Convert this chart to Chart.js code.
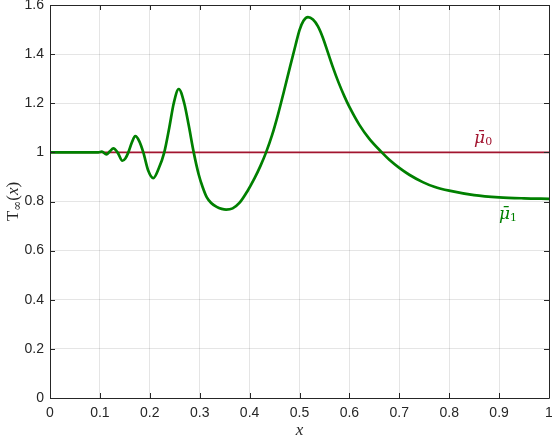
<!DOCTYPE html>
<html>
<head>
<meta charset="utf-8">
<script src="https://cdn.jsdelivr.net/npm/chart.js@4/dist/chart.umd.min.js"></script>
<style>
html,body{margin:0;padding:0;background:#fff;}
#wrap{width:552px;height:440px;}
</style>
</head>
<body>
<div id="wrap"><canvas id="c" width="552" height="440"></canvas></div>
<script>
// ---- data ----
const xValues = [0, 0.05, 0.09, 0.097, 0.104, 0.113, 0.120, 0.127, 0.136, 0.145, 0.151, 0.157, 0.164, 0.171, 0.179, 0.187, 0.197, 0.207, 0.218, 0.229, 0.239, 0.248, 0.258, 0.269, 0.278, 0.288, 0.298, 0.306, 0.314, 0.323, 0.334, 0.344, 0.353, 0.366, 0.380, 0.395, 0.410, 0.422, 0.433, 0.445, 0.457, 0.469, 0.481, 0.492, 0.500, 0.508, 0.517, 0.527, 0.537, 0.547, 0.557, 0.567, 0.578, 0.590, 0.600, 0.620, 0.640, 0.665, 0.680, 0.700, 0.720, 0.747, 0.770, 0.800, 0.850, 0.900, 0.950, 1.000];
const mu1Values = [1, 1, 1, 1.000, 1.003, 0.992, 1.004, 1.016, 0.998, 0.966, 0.975, 1.000, 1.040, 1.066, 1.045, 1.000, 0.925, 0.895, 0.935, 1.000, 1.100, 1.200, 1.258, 1.200, 1.110, 1.000, 0.910, 0.858, 0.818, 0.794, 0.778, 0.770, 0.767, 0.772, 0.795, 0.840, 0.895, 0.946, 1.000, 1.070, 1.155, 1.250, 1.348, 1.436, 1.498, 1.536, 1.551, 1.541, 1.513, 1.466, 1.406, 1.346, 1.286, 1.228, 1.185, 1.112, 1.055, 1.000, 0.970, 0.937, 0.909, 0.879, 0.860, 0.844, 0.826, 0.817, 0.813, 0.811];
const mu0X = [0, 1];
const mu0Values = [1, 1];
const xTickValues = [0, 0.1, 0.2, 0.3, 0.4, 0.5, 0.6, 0.7, 0.8, 0.9, 1];
const xTickLabels = ['0', '0.1', '0.2', '0.3', '0.4', '0.5', '0.6', '0.7', '0.8', '0.9', '1'];
const yTickValues = [0, 0.2, 0.4, 0.6, 0.8, 1, 1.2, 1.4, 1.6];
const yTickLabels = ['0', '0.2', '0.4', '0.6', '0.8', '1', '1.2', '1.4', '1.6'];
const labelMu0 = {x: 0.868, y: 1.04};
const labelMu1 = {x: 0.918, y: 0.728};

const GREEN = 'rgb(0,128,0)';
const RED = 'rgb(162,20,47)';
const AXIS = '#262626';

function findLabel(vals, labels, v) {
  for (let i = 0; i < vals.length; i++) if (Math.abs(vals[i] - v) < 1e-6) return labels[i];
  return '';
}

function zeroPad(s) { s.paddingTop = 0; s.paddingBottom = 0; s.paddingLeft = 0; s.paddingRight = 0; }

const boxPlugin = {
  id: 'boxPlugin',
  afterDatasetsDraw(chart) {
    const {ctx, chartArea: a, scales} = chart;
    const xs = scales.x, ys = scales.y;
    ctx.save();
    ctx.strokeStyle = AXIS;
    ctx.lineWidth = 1;
    ctx.beginPath();
    ctx.rect(Math.round(a.left) + 0.5, Math.round(a.top) + 0.5, Math.round(a.right - a.left), Math.round(a.bottom - a.top));
    ctx.stroke();
    const tl = 5;
    ctx.beginPath();
    xTickValues.forEach(v => {
      const px = Math.round(xs.getPixelForValue(v)) + 0.5;
      ctx.moveTo(px, a.bottom); ctx.lineTo(px, a.bottom - tl);
      ctx.moveTo(px, a.top); ctx.lineTo(px, a.top + tl);
    });
    yTickValues.forEach(v => {
      const py = Math.round(ys.getPixelForValue(v)) + 0.5;
      ctx.moveTo(a.left, py); ctx.lineTo(a.left + tl, py);
      ctx.moveTo(a.right, py); ctx.lineTo(a.right - tl, py);
    });
    ctx.stroke();

    // series labels
    function muLabel(pos, sub, color) {
      const px = xs.getPixelForValue(pos.x);
      const py = ys.getPixelForValue(pos.y);
      ctx.fillStyle = color;
      ctx.textBaseline = 'alphabetic';
      ctx.textAlign = 'left';
      ctx.font = 'italic 17px "DejaVu Serif"';
      const w1 = ctx.measureText('μ̄').width;
      ctx.font = '11px "DejaVu Serif"';
      const w2 = ctx.measureText(sub).width;
      const start = px - (w1 + w2) / 2;
      ctx.font = 'italic 17px "DejaVu Serif"';
      ctx.fillText('μ̄', start, py);
      ctx.font = '11px "DejaVu Serif"';
      ctx.fillText(sub, start + w1, py + 2);
    }
    muLabel(labelMu0, '0', RED);
    muLabel(labelMu1, '1', GREEN);

    // axis titles
    ctx.fillStyle = AXIS;
    ctx.font = 'italic 17px "Liberation Serif"';
    ctx.textAlign = 'center';
    ctx.textBaseline = 'alphabetic';
    ctx.fillText('x', (a.left + a.right) / 2, 435);

    ctx.translate(18, (a.top + a.bottom) / 2);
    ctx.rotate(-Math.PI / 2);
    const segs = [
      {t: 'T', f: '17px "Liberation Serif"', dy: 0},
      {t: '∞', f: '12px "DejaVu Serif"', dy: 3},
      {t: '(', f: '17px "Liberation Serif"', dy: 0},
      {t: 'x', f: 'italic 17px "Liberation Serif"', dy: 0},
      {t: ')', f: '17px "Liberation Serif"', dy: 0}
    ];
    let total = 0;
    segs.forEach(s => { ctx.font = s.f; s.w = ctx.measureText(s.t).width; total += s.w; });
    let cx = -total / 2;
    ctx.textAlign = 'left';
    segs.forEach(s => { ctx.font = s.f; ctx.fillText(s.t, cx, s.dy); cx += s.w; });
    ctx.restore();
  }
};

new Chart(document.getElementById('c'), {
  type: 'line',
  data: {
    datasets: [
      {
        label: 'mu1',
        data: xValues.map((x, i) => ({x: x, y: mu1Values[i]})),
        borderColor: GREEN,
        borderWidth: 2.7,
        pointRadius: 0,
        cubicInterpolationMode: 'monotone',
        fill: false,
        order: 1
      },
      {
        label: 'mu0',
        data: mu0X.map((x, i) => ({x: x, y: mu0Values[i]})),
        borderColor: RED,
        borderWidth: 1.6,
        pointRadius: 0,
        fill: false,
        order: 2
      }
    ]
  },
  options: {
    responsive: false,
    animation: false,
    devicePixelRatio: 1,
    clip: false,
    layout: {padding: {left: 0, right: 3, top: 5, bottom: 0}},
    plugins: {legend: {display: false}, tooltip: {enabled: false}},
    scales: {
      x: {
        type: 'linear', min: 0, max: 1,
        afterFit: s => { s.height = 42; zeroPad(s); },
        afterBuildTicks: s => { s.ticks = xTickValues.map(v => ({value: v})); },
        grid: {color: 'rgba(38,38,38,0.12)', drawTicks: false},
        border: {display: false},
        ticks: {
          padding: 7, color: AXIS, maxRotation: 0, autoSkip: false,
          font: {family: '"Liberation Sans"', size: 14},
          callback: v => findLabel(xTickValues, xTickLabels, v)
        }
      },
      y: {
        type: 'linear', min: 0, max: 1.6,
        afterFit: s => { s.width = 50; zeroPad(s); },
        afterBuildTicks: s => { s.ticks = yTickValues.map(v => ({value: v})); },
        grid: {color: 'rgba(38,38,38,0.12)', drawTicks: false},
        border: {display: false},
        ticks: {
          padding: 6, color: AXIS, autoSkip: false,
          font: {family: '"Liberation Sans"', size: 14},
          callback: v => findLabel(yTickValues, yTickLabels, v)
        }
      }
    }
  },
  plugins: [boxPlugin]
});
</script>
</body>
</html>
